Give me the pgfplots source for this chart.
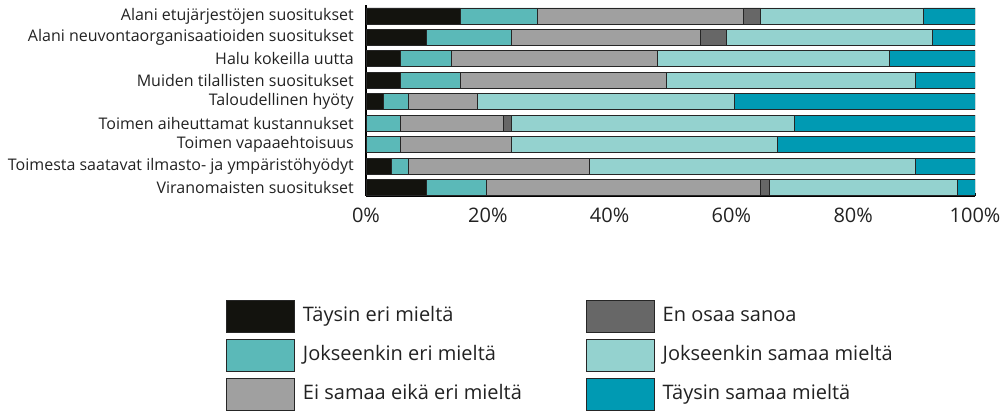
\documentclass[border=0pt]{standalone}
\usepackage{pgfplots}
\usepackage{pgfplotstable}
\pgfplotsset{compat=1.18}
\usepackage{fontspec}
\setmainfont{Open Sans}
\definecolor{c1}{HTML}{13130E}
\definecolor{c2}{HTML}{5BB9B8}
\definecolor{c3}{HTML}{A0A0A0}
\definecolor{c4}{HTML}{676767}
\definecolor{c5}{HTML}{94D2CF}
\definecolor{c6}{HTML}{009AB3}
\definecolor{txt}{HTML}{222222}
\pgfplotstableread{
y t1 t2 t3 t4 t5 t6
1 15.493 12.676 33.803 2.817 26.761 8.451
2 9.859 14.085 30.986 4.225 33.803 7.042
3 5.634 8.451 33.803 0 38.028 14.085
4 5.634 9.859 33.803 0 40.845 9.859
5 2.817 4.225 11.268 0 42.254 39.437
6 0 5.634 16.901 1.408 46.479 29.577
7 0 5.634 18.310 0 43.662 32.394
8 4.225 2.817 29.577 0 53.521 9.859
9 9.859 9.859 45.070 1.408 30.986 2.817
}\datatable
\begin{document}
\begin{tikzpicture}
\useasboundingbox (0,0) rectangle (1008pt,-410pt);
\begin{axis}[
  at={(366pt,-5pt)}, anchor=north west,
  scale only axis, width=609pt, height=191pt,
  xbar stacked, bar width=16pt,
  xmin=0, xmax=100, ymin=0.49, ymax=9.4, y dir=reverse,
  axis x line*=bottom, axis y line*=left,
  axis line style={line width=1.5pt, black},
  xtick={0,20,40,60,80,100},
  xticklabels={0\%,20\%,40\%,60\%,80\%,100\%},
  ytick={1,...,9},
  yticklabels={Alani etujärjestöjen suositukset,Alani neuvontaorganisaatioiden suositukset,Halu kokeilla uutta,Muiden tilallisten suositukset,Taloudellinen hyöty,Toimen aiheuttamat kustannukset,Toimen vapaaehtoisuus,Toimesta saatavat ilmasto- ja ympäristöhyödyt,Viranomaisten suositukset},
  tick align=inside, major tick length=3pt,
  ytick style={draw=none}, xtick style={black, line width=1pt},
  yticklabel style={font=\fontsize{16}{18}\selectfont, text=txt, inner sep=0pt, xshift=-12pt},
  xticklabel style={font=\fontsize{20}{24}\selectfont, text=txt, inner sep=0pt, yshift=-12pt},
  every axis plot/.append style={draw=black!85, line width=0.8pt},
  legend image code/.code={\draw[#1] (0pt,-18pt) rectangle (68pt,14pt);},
  legend columns=2,
  legend cell align=left,
  legend style={at={(-0.2299,-0.5445)}, anchor=north west, draw=none, fill=none, inner sep=0pt,
    font=\fontsize{20}{24}\selectfont, text=txt,
    nodes={inner sep=0pt},
    row sep=6pt, column sep=8pt,
    /tikz/every even column/.append style={column sep=64pt}},
]
\addplot[fill=c1, forget plot] table[x=t1, y=y] {\datatable};
\addplot[fill=c2, forget plot] table[x=t2, y=y] {\datatable};
\addplot[fill=c3, forget plot] table[x=t3, y=y] {\datatable};
\addplot[fill=c4, forget plot] table[x=t4, y=y] {\datatable};
\addplot[fill=c5, forget plot] table[x=t5, y=y] {\datatable};
\addplot[fill=c6, forget plot] table[x=t6, y=y] {\datatable};
\addlegendimage{fill=c1, draw=black!85}\addlegendentry{Täysin eri mieltä}
\addlegendimage{fill=c4, draw=black!85}\addlegendentry{En osaa sanoa}
\addlegendimage{fill=c2, draw=black!85}\addlegendentry{Jokseenkin eri mieltä}
\addlegendimage{fill=c5, draw=black!85}\addlegendentry{Jokseenkin samaa mieltä}
\addlegendimage{fill=c3, draw=black!85}\addlegendentry{Ei samaa eikä eri mieltä}
\addlegendimage{fill=c6, draw=black!85}\addlegendentry{Täysin samaa mieltä}
\end{axis}
\end{tikzpicture}
\end{document}
